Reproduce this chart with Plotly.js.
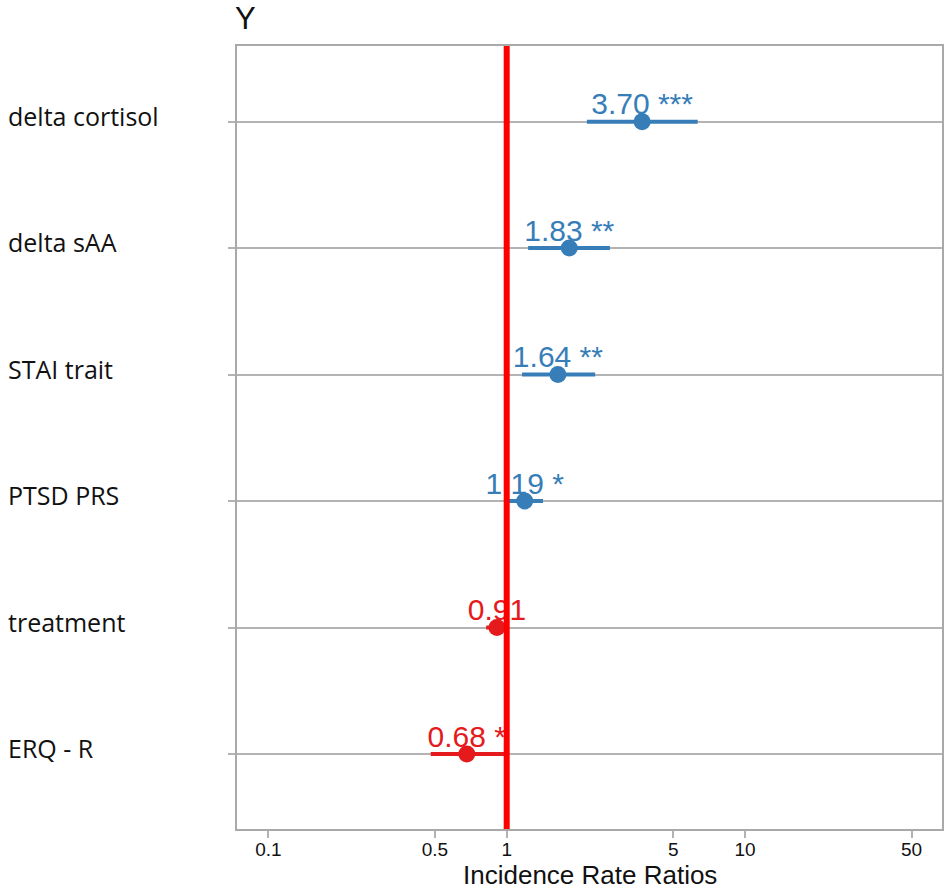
<!DOCTYPE html>
<html>
<head>
<meta charset="utf-8">
<script src="https://cdn.plot.ly/plotly-3.0.1.min.js"></script>
<style>
  html, body { margin: 0; padding: 0; background: #ffffff; }
  #chart { width: 945px; height: 890px; }
</style>
</head>
<body>
<div id="chart"></div>
<script>
// ---- data (top to bottom as shown) ----
const terms     = ['delta cortisol', 'delta sAA', 'STAI trait', 'PTSD PRS', 'treatment', 'ERQ - R'];
const estimates = [3.70, 1.83, 1.64, 1.19, 0.91, 0.68];
const ciLow     = [2.17, 1.23, 1.16, 1.02, 0.82, 0.48];
const ciHigh    = [6.33, 2.71, 2.35, 1.42, 1.01, 0.98];
const stars     = ['***', '**', '**', '*', '', '*'];
const xTickVals = [0.1, 0.5, 1, 5, 10, 50];
const xTickText = ['0.1', '0.5', '1', '5', '10', '50'];
const refValue  = 1;
const xTitle    = 'Incidence Rate Ratios';
const chartTitle = 'Y';

const BLUE = '#377eb8';
const RED = '#e41a1c';

const categoryOrder = terms.slice().reverse(); // bottom to top

function group(pred) {
  const idx = terms.map((t, i) => i).filter(pred);
  return {
    y: idx.map(i => terms[i]),
    x: idx.map(i => estimates[i]),
    plus: idx.map(i => ciHigh[i] - estimates[i]),
    minus: idx.map(i => estimates[i] - ciLow[i]),
    text: idx.map(i => (estimates[i].toFixed(2) + ' ' + stars[i]).trim())
  };
}
const pos = group(i => estimates[i] >= 1);
const neg = group(i => estimates[i] < 1);

function pointTrace(g, color) {
  return {
    type: 'scatter', mode: 'markers', x: g.x, y: g.y,
    marker: { color: color, size: 17, line: { width: 0 } },
    error_x: { type: 'data', symmetric: false, array: g.plus, arrayminus: g.minus,
               color: color, thickness: 4, width: 0 },
    hoverinfo: 'skip', showlegend: false
  };
}
function textTrace(g, color) {
  return {
    type: 'scatter', mode: 'text', x: g.x, y: g.y, text: g.text,
    textposition: 'top center',
    textfont: { family: 'Liberation Sans, Arial, sans-serif', size: 30, color: color },
    hoverinfo: 'skip', showlegend: false
  };
}

const data = [pointTrace(neg, RED), pointTrace(pos, BLUE), textTrace(neg, RED), textTrace(pos, BLUE)];

const labelAnnotations = terms.map(t => ({
  xref: 'paper', yref: 'y', x: -0.328, y: t,
  xanchor: 'left', yanchor: 'middle', yshift: 6,
  text: t, showarrow: false,
  font: { family: 'Open Sans, Noto Sans, sans-serif', size: 25, color: '#111111' }
}));

const otherAnnotations = [
  {
    xref: 'paper', yref: 'paper', x: 0.5, y: 0, xanchor: 'center', yanchor: 'middle',
    yshift: -46, text: xTitle, showarrow: false, borderpad: 0,
    font: { family: 'Liberation Sans, Arial, sans-serif', size: 26, color: '#111111' }
  },
  {
    xref: 'paper', yref: 'paper', x: 0, y: 1, xanchor: 'left', yanchor: 'middle',
    yshift: 28, xshift: -4, text: chartTitle, showarrow: false,
    font: { family: 'Liberation Sans, Arial, sans-serif', size: 31, color: '#111111' }
  }
];

const layout = {
  width: 945, height: 890,
  margin: { l: 237, r: 3, t: 46, b: 61 },
  paper_bgcolor: '#ffffff', plot_bgcolor: '#ffffff',
  xaxis: {
    type: 'log',
    range: [-1.1318, 1.8267],
    tickvals: xTickVals, ticktext: xTickText,
    ticks: 'outside', ticklen: 7, tickwidth: 2, tickcolor: '#b3b3b3',
    ticklabelstandoff: -5,
    tickfont: { family: 'Liberation Sans, Arial, sans-serif', size: 19, color: '#111111' },
    showgrid: false, zeroline: false,
    showline: true, mirror: true, linecolor: '#a9a9a9', linewidth: 2
  },
  yaxis: {
    type: 'category',
    categoryorder: 'array', categoryarray: categoryOrder,
    range: [-0.593, 5.598],
    showticklabels: false,
    ticks: 'outside', ticklen: 7, tickwidth: 2, tickcolor: '#b3b3b3',
    showgrid: true, gridcolor: '#b3b3b3', gridwidth: 2,
    zeroline: false,
    showline: true, mirror: true, linecolor: '#a9a9a9', linewidth: 2
  },
  shapes: [{
    type: 'line', xref: 'x', yref: 'paper', x0: refValue, x1: refValue, y0: 0, y1: 1,
    line: { color: '#ff0000', width: 6 }, layer: 'above'
  }],
  annotations: labelAnnotations.concat(otherAnnotations),
  showlegend: false
};

Plotly.newPlot('chart', data, layout, { displayModeBar: false, staticPlot: true });
</script>
</body>
</html>
